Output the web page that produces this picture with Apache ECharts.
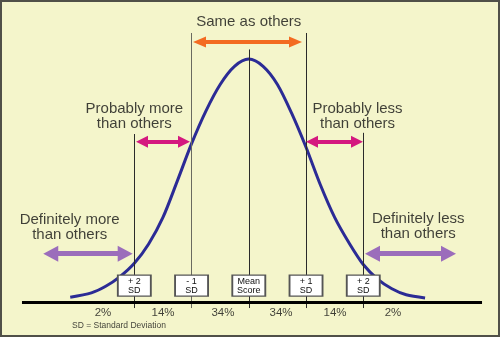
<!DOCTYPE html>
<html>
<head>
<meta charset="utf-8">
<script src="https://cdn.jsdelivr.net/npm/echarts@6/dist/echarts.min.js"></script>
<style>
html,body{margin:0;padding:0;background:#f4f5cb;}
#chart{width:500px;height:337px;}
</style>
</head>
<body>
<div id="chart"></div>
<script>
// ---- data (x in standard deviations, y in % of peak height) ----
const curveSd = [-3.12,-2.75,-2.5,-2.25,-2.0,-1.75,-1.5,-1.25,-1.0,-0.75,-0.5,-0.25,0,0.25,0.5,0.75,1.0,1.25,1.5,1.75,2.0,2.25,2.5,2.75,3.08];
const curveHeight = [2,3.8,6.5,10.5,16,24,35,50,65.5,79,90,97.5,100.5,97.5,90,78,64,48.5,35,24.5,15.5,9.5,5.5,3,1.7];

const sdLines = [-2,-1,0,1,2];
const sdLineTops = [69.5,111.3,104.5,111.3,70];
const sdLineBottom = -2.5;
const baselineSpan = [-3.963, 4.075];

const boxLabels = ['+ 2\nSD','- 1\nSD','Mean\nScore','+ 1\nSD','+ 2\nSD'];
const boxHeight = 6.8;

const pctLabels = ['2%','14%','34%','34%','14%','2%'];
const pctSd = [-2.547,-1.499,-0.451,0.563,1.507,2.52];
const pctHeight = -4.34;

const noteText = 'SD = Standard Deviation';
const notePos = [-2.268, -9.93];

const groupTexts = ['Same as others','Probably more\nthan others','Probably less\nthan others','Definitely more\nthan others','Definitely less\nthan others'];
const groupSd = [0,-2.0,1.9,-3.13,2.96];
const groupHeight = [115.8,77,77,31,31.5];

// arrows: [startSd, endSd, height]
const orangeArrows = [[-0.861,0.816,107.6]];
const pinkArrows = [[-1.866,-1.132,66.3],[1.104,1.890,66.3]];
const purpleArrows = [[-3.460,-2.160,20],[2.161,3.489,20]];

const FONT = '"Liberation Sans", Arial, sans-serif';

function arrowSeries(arrows, color, width, headSize){
  return {
    type:'line', data:[], z:4, silent:true,
    markLine:{
      silent:true, animation:false,
      symbol:['triangle','triangle'], symbolSize:headSize,
      label:{show:false},
      lineStyle:{color:color, width:width, type:'solid'},
      emphasis:{disabled:true},
      data: arrows.map(a=>[{coord:[a[0],a[2]]},{coord:[a[1],a[2]]}])
    }
  };
}

const chart = echarts.init(document.getElementById('chart'), null, {renderer:'canvas'});
chart.setOption({
  animation:false,
  backgroundColor:'#f4f5cb',
  grid:{left:0,right:0,top:0,bottom:0},
  xAxis:{type:'value',min:-4.347,max:4.389,show:false},
  yAxis:{type:'value',min:-14.48,max:124.95,show:false},
  graphic:[{type:'rect',shape:{x:1,y:1,width:498,height:335},style:{fill:'none',stroke:'#505048',lineWidth:2},z:100}],
  series:[
    {
      type:'line', data:[], z:1, silent:true,
      markLine:{
        silent:true, animation:false, symbol:['none','none'], label:{show:false},
        emphasis:{disabled:true},
        data: sdLines.map((s,i)=>[{coord:[s,sdLineBottom],lineStyle:{color: s===-1?'#6a6a60':'#2a2a2a',width:1,type:'solid'}},{coord:[s,sdLineTops[i]]}])
          .concat([[{coord:[baselineSpan[0],0],lineStyle:{color:'#000',width:3,type:'solid'}},{coord:[baselineSpan[1],0]}]])
      }
    },
    {
      type:'line', z:2, silent:true,
      data: curveSd.map((s,i)=>[s,curveHeight[i]]),
      smooth:0.3, showSymbol:false,
      lineStyle:{color:'#2b2b95',width:3}
    },
    arrowSeries(orangeArrows,'#f36b21',4,[11,13]),
    arrowSeries(pinkArrows,'#d4187f',4,[12,12]),
    arrowSeries(purpleArrows,'#9b6dbb',5,[16,15]),
    {
      type:'scatter', z:5, silent:true,
      symbol:'rect', symbolSize:[33,21],
      itemStyle:{color:'#ffffff',borderColor:'#555',borderWidth:1.5,opacity:1},
      label:{show:true,position:'inside',formatter:p=>p.name,color:'#111',fontSize:9,lineHeight:9,fontFamily:FONT},
      data: sdLines.map((s,i)=>({name:boxLabels[i],value:[s,boxHeight]}))
    },
    {
      type:'scatter', z:6, silent:true, symbolSize:0,
      label:{show:true,position:'inside',formatter:p=>p.name,color:'#111',fontSize:11.5,fontFamily:FONT},
      data: pctSd.map((s,i)=>({name:pctLabels[i],value:[s,pctHeight]}))
    },
    {
      type:'scatter', z:6, silent:true, symbolSize:0,
      label:{show:true,position:'inside',formatter:p=>p.name,color:'#111',fontSize:8.5,fontFamily:FONT},
      data:[{name:noteText,value:notePos}]
    },
    {
      type:'scatter', z:6, silent:true, symbolSize:0,
      label:{show:true,position:'inside',formatter:p=>p.name,color:'#111',fontSize:15,lineHeight:15,fontFamily:FONT},
      data: groupSd.map((s,i)=>({name:groupTexts[i],value:[s,groupHeight[i]]}))
    }
  ]
});
</script>
</body>
</html>
